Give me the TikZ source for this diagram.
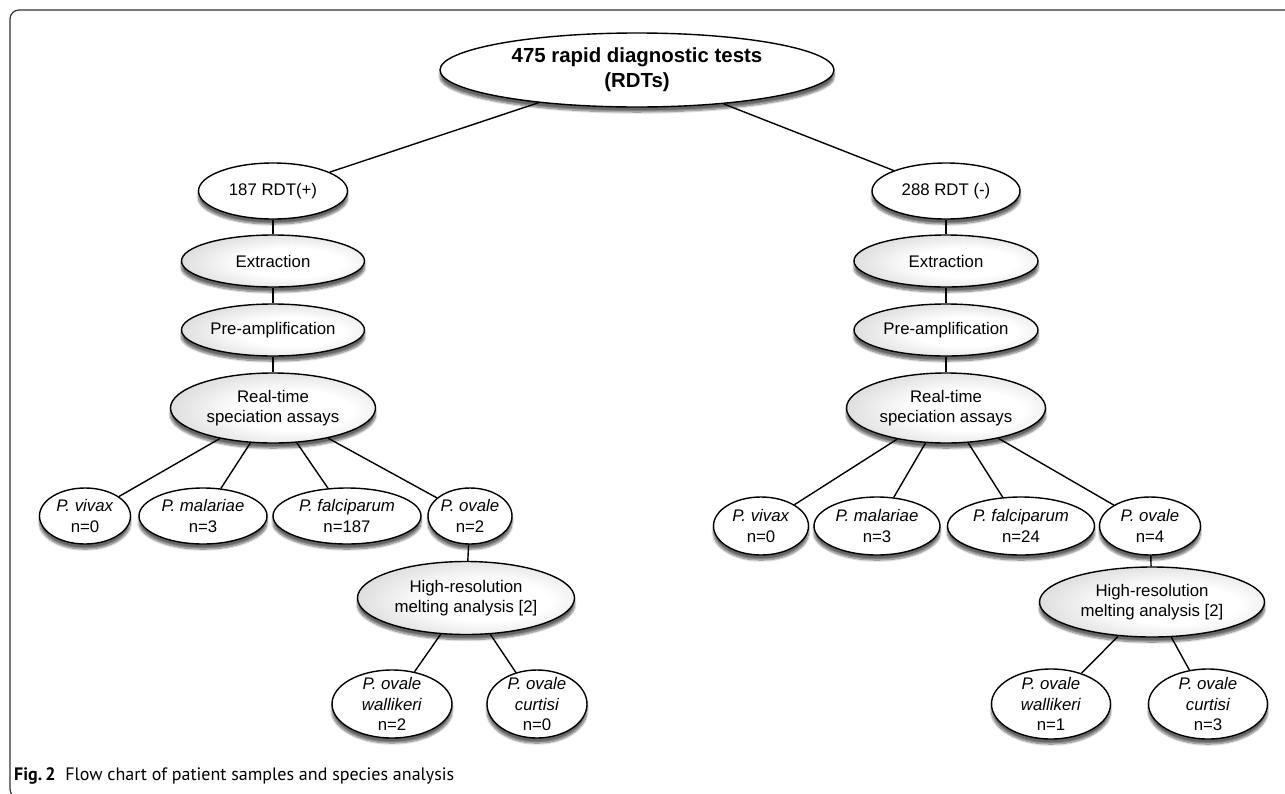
\documentclass[tikz,border=0pt]{standalone}
\usepackage{fontspec}
\setmainfont{Liberation Sans}
\newfontfamily\capfont{PT Sans}
\usetikzlibrary{shapes.geometric,shadows.blur}
\pgfdeclareradialshading{ovalshade}{\pgfpoint{6bp}{-2bp}}{color(0bp)=(white); color(14bp)=(white); color(50bp)=(black!30); color(100bp)=(black!30)}
\begin{document}
\begin{tikzpicture}[x=1pt,y=-1pt,
  oval/.style 2 args={ellipse, draw=black, line width=1.4pt, fill=white,
     minimum width=#1, minimum height=#2, inner sep=0pt,
     blur shadow={shadow xshift=0pt, shadow yshift=-5pt, shadow blur steps=10, shadow blur extra rounding=2pt, shadow opacity=60}},
  grayoval/.style 2 args={oval={#1}{#2}, shading=ovalshade},
  txt/.style={font=\fontsize{16.8}{20.5}\selectfont, align=center, inner sep=0pt},
  toptxt/.style={font=\bfseries\fontsize{20.4}{25}\selectfont, align=center, inner sep=0pt},
  conn/.style={line width=1.4pt, draw=black},
  frame/.style={line width=1.2pt, draw=black!80, rounded corners=9pt}
]
\useasboundingbox (0,0) rectangle (1285,793);
\draw[frame] (10,10) rectangle (1300,798);

% top
\node[oval={394pt}{74pt}, label={[toptxt]center:{475 rapid diagnostic tests\\(RDTs)}}] (top) at (637,70) {};

% left branch
\node[oval={149pt}{56pt}, label={[txt]center:{187 RDT(+)}}] (pos) at (273,191) {};
\node[grayoval={183pt}{52pt}, label={[txt]center:{Extraction}}] (extL) at (273,261) {};
\node[grayoval={183pt}{52pt}, label={[txt]center:{Pre-amplification}}] (preL) at (273,330) {};
\node[grayoval={205pt}{70pt}, label={[txt]center:{Real-time\\speciation assays}}] (rtL) at (273,408) {};
\node[oval={91pt}{56pt}, label={[txt]center:{\textit{P. vivax}\\n=0}}] (vivL) at (85,516) {};
\node[oval={128pt}{56pt}, label={[txt]center:{\textit{P. malariae}\\n=3}}] (malL) at (203,516) {};
\node[oval={148pt}{56pt}, label={[txt]center:{\textit{P. falciparum}\\n=187}}] (falL) at (347,516) {};
\node[oval={84pt}{56pt}, label={[txt]center:{\textit{P. ovale}\\n=2}}] (ovL) at (470,516) {};
\node[grayoval={217pt}{73pt}, label={[txt]center:{High-resolution\\melting analysis [2]}}] (hrmL) at (466,598) {};
\node[oval={120pt}{68pt}, label={[txt]center:{\textit{P. ovale}\\\textit{wallikeri}\\n=2}}] (walL) at (392,704) {};
\node[oval={100pt}{68pt}, label={[txt]center:{\textit{P. ovale}\\\textit{curtisi}\\n=0}}] (curL) at (537,704) {};

% right branch
\node[oval={148pt}{56pt}, label={[txt]center:{288 RDT (-)}}] (neg) at (946,191) {};
\node[grayoval={184pt}{52pt}, label={[txt]center:{Extraction}}] (extR) at (946,261) {};
\node[grayoval={184pt}{52pt}, label={[txt]center:{Pre-amplification}}] (preR) at (946,330) {};
\node[grayoval={199pt}{70pt}, label={[txt]center:{Real-time\\speciation assays}}] (rtR) at (946,408) {};
\node[oval={95pt}{58pt}, label={[txt]center:{\textit{P. vivax}\\n=0}}] (vivR) at (761,526) {};
\node[oval={126pt}{58pt}, label={[txt]center:{\textit{P. malariae}\\n=3}}] (malR) at (877,526) {};
\node[oval={147pt}{58pt}, label={[txt]center:{\textit{P. falciparum}\\n=24}}] (falR) at (1021,526) {};
\node[oval={101pt}{58pt}, label={[txt]center:{\textit{P. ovale}\\n=4}}] (ovR) at (1150,526) {};
\node[grayoval={225pt}{70pt}, label={[txt]center:{High-resolution\\melting analysis [2]}}] (hrmR) at (1152,602) {};
\node[oval={119pt}{70pt}, label={[txt]center:{\textit{P. ovale}\\\textit{wallikeri}\\n=1}}] (walR) at (1051,704) {};
\node[oval={119pt}{70pt}, label={[txt]center:{\textit{P. ovale}\\\textit{curtisi}\\n=3}}] (curR) at (1208,704) {};

% connectors
\draw[conn] (top) -- (pos);
\draw[conn] (top) -- (neg);
\draw[conn] (pos) -- (extL);
\draw[conn] (extL) -- (preL);
\draw[conn] (preL) -- (rtL);
\draw[conn] (rtL) -- (vivL);
\draw[conn] (rtL) -- (malL);
\draw[conn] (rtL) -- (falL);
\draw[conn] (rtL) -- (ovL);
\draw[conn] (ovL) -- (hrmL);
\draw[conn] (hrmL) -- (walL);
\draw[conn] (hrmL) -- (curL);
\draw[conn] (neg) -- (extR);
\draw[conn] (extR) -- (preR);
\draw[conn] (preR) -- (rtR);
\draw[conn] (rtR) -- (vivR);
\draw[conn] (rtR) -- (malR);
\draw[conn] (rtR) -- (falR);
\draw[conn] (rtR) -- (ovR);
\draw[conn] (ovR) -- (hrmR);
\draw[conn] (hrmR) -- (walR);
\draw[conn] (hrmR) -- (curR);

% caption
\node[anchor=base west, inner sep=0pt, font=\capfont\fontsize{18}{21}\selectfont] (cap) at (14,780)
  {\textbf{Fig.\,2}\hspace{0.55em}Flow chart of patient samples and species analysis};
\end{tikzpicture}
\end{document}
